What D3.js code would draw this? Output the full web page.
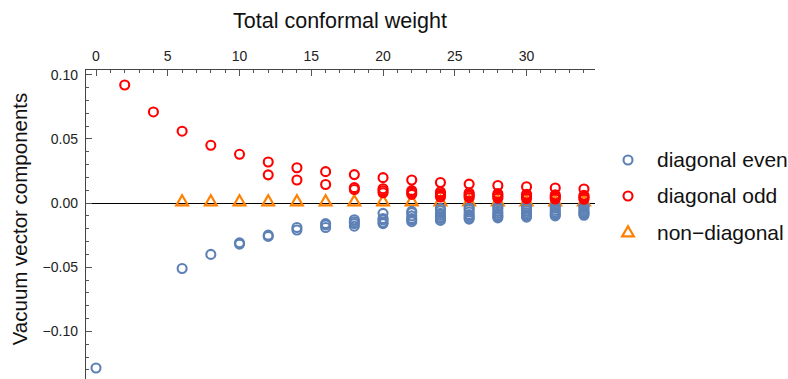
<!DOCTYPE html>
<html>
<head>
<meta charset="utf-8">
<script src="https://cdn.jsdelivr.net/npm/d3@7"></script>
<style>
  html, body { margin: 0; padding: 0; background: #fff; }
  svg { display: block; font-family: "Liberation Sans", Arial, sans-serif; }
  line { shape-rendering: crispEdges; }
</style>
</head>
<body>
<svg id="chart" width="788" height="379"></svg>
<script>
// ---- data ----
const xTicks = [0, 5, 10, 15, 20, 25, 30];
const yTicks = [-0.10, -0.05, 0.00, 0.05, 0.10];
const yTickLabels = ["\u22120.10", "\u22120.05", "0.00", "0.05", "0.10"];
const legendLabels = ["diagonal even", "diagonal odd", "non\u2212diagonal"];

// [total conformal weight, component value]
const diagonalEven = [
  [0, -0.1285],
  [6, -0.051],
  [8, -0.040],
  [10, -0.032], [10, -0.031],
  [12, -0.026], [12, -0.025],
  [14, -0.021], [14, -0.019],
  [16, -0.019], [16, -0.017], [16, -0.016],
  [18, -0.018], [18, -0.016], [18, -0.0145], [18, -0.013],
  [20, -0.016], [20, -0.015], [20, -0.013], [20, -0.012], [20, -0.008],
  [22, -0.0145], [22, -0.013], [22, -0.012], [22, -0.010], [22, -0.0075], [22, -0.0065],
  [24, -0.0135], [24, -0.012], [24, -0.011], [24, -0.0095], [24, -0.008], [24, -0.006], [24, -0.004],
  [26, -0.0125], [26, -0.0115], [26, -0.010], [26, -0.009], [26, -0.007], [26, -0.005], [26, -0.0035],
  [28, -0.0115], [28, -0.0105], [28, -0.0095], [28, -0.008], [28, -0.0065], [28, -0.0045], [28, -0.003],
  [30, -0.011], [30, -0.010], [30, -0.009], [30, -0.0075], [30, -0.006], [30, -0.004], [30, -0.0028],
  [32, -0.010], [32, -0.009], [32, -0.008], [32, -0.007], [32, -0.0055], [32, -0.0038], [32, -0.0025],
  [34, -0.0095], [34, -0.0085], [34, -0.0075], [34, -0.0065], [34, -0.005], [34, -0.0035], [34, -0.0022]
];

const diagonalOdd = [
  [2, 0.092],
  [4, 0.071],
  [6, 0.056],
  [8, 0.045],
  [10, 0.038],
  [12, 0.032], [12, 0.022],
  [14, 0.0275], [14, 0.018],
  [16, 0.0245], [16, 0.0145],
  [18, 0.0222], [18, 0.012], [18, 0.0106],
  [20, 0.0198], [20, 0.0112], [20, 0.0096], [20, 0.008],
  [22, 0.018], [22, 0.0097], [22, 0.0083], [22, 0.0068],
  [24, 0.016], [24, 0.0087], [24, 0.0073], [24, 0.006], [24, 0.0047],
  [26, 0.0148], [26, 0.008], [26, 0.0067], [26, 0.0055], [26, 0.0042],
  [28, 0.0137], [28, 0.0074], [28, 0.0062], [28, 0.0051], [28, 0.0038],
  [30, 0.0127], [30, 0.0069], [30, 0.0058], [30, 0.0047], [30, 0.0035],
  [32, 0.0118], [32, 0.0064], [32, 0.0054], [32, 0.0044], [32, 0.0032],
  [34, 0.011], [34, 0.006], [34, 0.005], [34, 0.0041], [34, 0.003]
];

const nonDiagonal = [
  [6, 0], [8, 0], [10, 0], [12, 0], [14, 0], [16, 0], [18, 0], [20, 0],
  [22, 0], [24, 0], [26, 0], [28, 0], [30, 0], [32, 0], [34, 0]
];

// ---- drawing ----
const colors = { even: "#5E81B5", odd: "#FF0000", non: "#FF8000" };
const svg = d3.select("#chart");

const pLeft = 85, pRight = 595, pTop = 69, pBottom = 379;
const x = d3.scaleLinear().domain([-0.767, 34.77]).range([pLeft, pRight]);
const y = d3.scaleLinear().domain([0.10446, -0.13707]).range([pTop, pBottom]);

// zero line
svg.append("line")
  .attr("x1", pLeft).attr("x2", pRight)
  .attr("y1", y(0)).attr("y2", y(0))
  .attr("stroke", "#000").attr("stroke-width", 1);

// ticks
const xMinor = d3.range(0, 35, 1);
const yMinor = d3.range(-13, 11, 1).map(d => d / 100);
const tickColor = "#555";

svg.append("g").selectAll("line").data(xMinor).join("line")
  .attr("x1", d => x(d)).attr("x2", d => x(d))
  .attr("y1", pTop).attr("y2", d => pTop + (xTicks.includes(d) ? 7 : 4))
  .attr("stroke", tickColor).attr("stroke-width", 1);

svg.append("g").selectAll("line").data(yMinor).join("line")
  .attr("x1", pLeft).attr("x2", d => pLeft + (Math.abs(Math.round(d * 100)) % 5 === 0 ? 7 : 4))
  .attr("y1", d => y(d)).attr("y2", d => y(d))
  .attr("stroke", tickColor).attr("stroke-width", 1);

// frame lines (top and left)
svg.append("line").attr("x1", pLeft).attr("x2", pRight).attr("y1", pTop).attr("y2", pTop)
  .attr("stroke", "#444").attr("stroke-width", 1);
svg.append("line").attr("x1", pLeft).attr("x2", pLeft).attr("y1", pTop).attr("y2", pBottom)
  .attr("stroke", "#444").attr("stroke-width", 1);

// tick labels
svg.append("g").selectAll("text").data(xTicks).join("text")
  .attr("x", d => x(d)).attr("y", 61)
  .attr("text-anchor", "middle")
  .attr("font-size", 14).attr("fill", "#222")
  .text(d => d);

svg.append("g").selectAll("text").data(yTicks).join("text")
  .attr("x", 78).attr("y", d => y(d))
  .attr("dy", "0.36em")
  .attr("text-anchor", "end")
  .attr("font-size", 14).attr("fill", "#222")
  .text((d, i) => yTickLabels[i]);

// axis titles
svg.append("text")
  .attr("x", (pLeft + pRight) / 2).attr("y", 28)
  .attr("text-anchor", "middle")
  .attr("font-size", 21.5).attr("fill", "#111")
  .text("Total conformal weight");

svg.append("text")
  .attr("transform", "translate(27,219) rotate(-90)")
  .attr("text-anchor", "middle")
  .attr("font-size", 20.5).attr("fill", "#111")
  .text("Vacuum vector components");

// marks
const tri = d3.symbol().type(d3.symbolTriangle).size(60);
const plot = svg.append("g");

plot.selectAll("path.non").data(nonDiagonal).join("path")
  .attr("class", "non")
  .attr("d", tri)
  .attr("transform", d => `translate(${x(d[0])},${y(d[1]) - 1})`)
  .attr("fill", "none").attr("stroke", colors.non).attr("stroke-width", 2.2)
  .attr("stroke-linejoin", "miter");

plot.selectAll("circle.even").data(diagonalEven).join("circle")
  .attr("class", "even")
  .attr("cx", d => x(d[0])).attr("cy", d => y(d[1])).attr("r", 4.5)
  .attr("fill", "none").attr("stroke", colors.even).attr("stroke-width", 2.1);

plot.selectAll("circle.odd").data(diagonalOdd).join("circle")
  .attr("class", "odd")
  .attr("cx", d => x(d[0])).attr("cy", d => y(d[1])).attr("r", 4.5)
  .attr("fill", "none").attr("stroke", colors.odd).attr("stroke-width", 2.1);

// legend
const legend = svg.append("g");
const legendY = [160, 196, 233];
const legendColors = [colors.even, colors.odd, colors.non];
legendLabels.forEach((lab, i) => {
  if (i < 2) {
    legend.append("circle").attr("cx", 628).attr("cy", legendY[i]).attr("r", 4.5)
      .attr("fill", "none").attr("stroke", legendColors[i]).attr("stroke-width", 2.1);
  } else {
    legend.append("path").attr("d", tri)
      .attr("transform", `translate(628,${legendY[i]})`)
      .attr("fill", "none").attr("stroke", legendColors[i]).attr("stroke-width", 2.2);
  }
  legend.append("text").attr("x", 657).attr("y", legendY[i]).attr("dy", "0.35em")
    .attr("font-size", 21).attr("fill", "#111").text(lab);
});
</script>
</body>
</html>
